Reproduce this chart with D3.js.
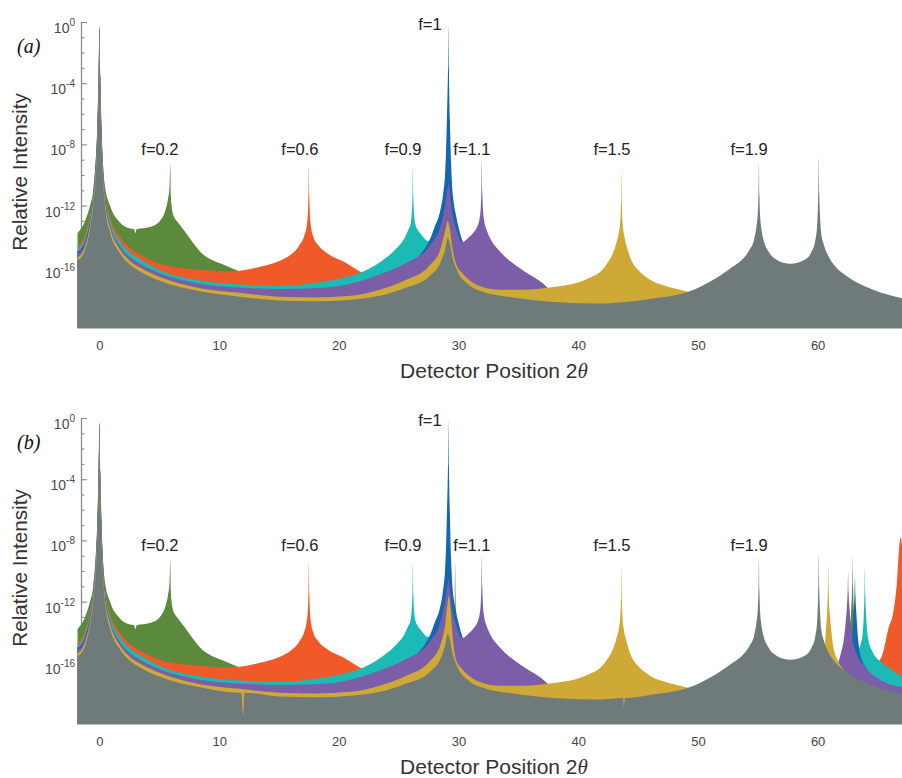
<!DOCTYPE html>
<html><head><meta charset="utf-8">
<script src="https://cdn.jsdelivr.net/npm/d3@7"></script>
<style>body{margin:0;background:#fff}</style>
</head><body><svg id="c" width="902" height="778"></svg>
<script>
// ---------- DATA (x = detector position 2θ, value = log10 relative intensity) ----------
const seriesNames  = ["f=0.2","f=0.6","f=0.9","f=1","f=1.1","f=1.5","f=1.9"];
const seriesColors = ["#5b8a3c","#f05a28","#1bbab5","#1565b0","#7b5ea7","#cfa935","#6f7a7b"];

const greenA = [[-1.85,-13.8],[-1.2,-13.0],[-0.79,-12.0],[-0.5,-10.9],[-0.38,-9.8],[-0.2,-7.2],[-0.08,-3.6],[0,-0.3],[0.08,-3.6],[0.2,-7.4],[0.46,-10.7],[0.88,-12.0],[1.71,-13.1],[2.55,-13.5],[2.9,-13.55],[3.0,-13.8],[3.1,-13.55],[4.2,-13.4],[5.05,-13.0],[5.47,-12.4],[5.72,-11.6],[5.85,-10.8],[5.93,-9.3],[5.97,-11.3],[6.03,-12.0],[6.13,-12.5],[6.35,-12.9],[6.56,-13.1],[7.14,-13.7],[8.4,-15.0],[10.48,-15.9],[11.74,-16.3],[13,-16.6],[16,-17.3],[20,-17.8],[30,-18.6],[67.05,-19]];
const orangeA = [[-1.85,-14.7],[-1.2,-13.9],[-0.8,-12.6],[-0.5,-10.9],[-0.3,-9.0],[-0.15,-6.3],[-0.06,-3.3],[0,-0.35],[0.06,-3.4],[0.15,-6.5],[0.3,-9.4],[0.5,-11.3],[0.9,-12.8],[1.7,-14.0],[2.6,-14.8],[3.4,-15.2],[5,-15.8],[8.4,-16.2],[10.5,-16.3],[11.74,-16.25],[13.41,-16.0],[15.08,-15.6],[16.0,-15.2],[16.7,-14.6],[17.1,-14.0],[17.3,-13.4],[17.4,-12.7],[17.46,-11.4],[17.5,-9.4],[17.54,-11.5],[17.6,-12.8],[17.7,-13.5],[17.9,-14.1],[18.3,-14.6],[19.0,-15.1],[20.5,-15.7],[21.76,-16.3],[23.4,-16.8],[25,-17.2],[30,-18],[40,-18.6],[67.05,-19]];
const tealA = [[-1.85,-14.9],[-1.2,-14.1],[-0.8,-12.8],[-0.5,-11.05],[-0.3,-9.1],[-0.15,-6.4],[-0.06,-3.4],[0,-0.35],[0.06,-3.5],[0.15,-6.6],[0.3,-9.5],[0.5,-11.5],[0.9,-13.0],[1.7,-14.3],[2.6,-15.1],[3.4,-15.5],[5,-16.2],[8.4,-16.9],[11.7,-17.15],[15,-17.25],[18.1,-17.05],[20.5,-16.7],[21.76,-16.4],[23.43,-15.7],[24.68,-14.9],[25.5,-14.1],[25.8,-13.6],[25.99,-13.2],[26.09,-12.5],[26.15,-11.4],[26.19,-9.5],[26.23,-11.5],[26.29,-12.6],[26.39,-13.2],[26.6,-13.6],[26.9,-13.9],[27.44,-14.3],[27.8,-14.3],[28.45,-14.0],[29.16,-12.5],[29.6,-14.8],[30.3,-15.5],[32,-16.5],[35,-17.6],[40,-18.6],[67.05,-19]];
const blueA = [[-1.85,-15.05],[-1.2,-14.3],[-0.8,-13.0],[-0.5,-11.25],[-0.3,-9.35],[-0.15,-6.6],[-0.06,-3.6],[0,-0.3],[0.06,-3.6],[0.15,-6.8],[0.3,-9.7],[0.5,-11.75],[0.9,-13.35],[1.7,-14.7],[5,-16.5],[8.4,-17.2],[15,-17.55],[21,-17.2],[23.4,-16.6],[25.5,-15.9],[26.8,-15.2],[27.61,-14.2],[28.0,-13.4],[28.45,-12.4],[28.7,-11.3],[28.87,-10.0],[28.95,-8.6],[29.04,-6.0],[29.12,-3.0],[29.16,-0.2],[29.2,-3.2],[29.28,-6.4],[29.37,-9.0],[29.45,-10.5],[29.6,-11.8],[29.78,-12.6],[30.0,-13.4],[30.28,-14.2],[30.95,-15.0],[32,-16],[35,-17.5],[40,-18.5],[67.05,-19]];
const purpleA = [[-1.85,-15.2],[-1.2,-14.45],[-0.8,-13.15],[-0.5,-11.4],[-0.3,-9.5],[-0.15,-6.8],[-0.06,-3.8],[0,-0.35],[0.06,-3.8],[0.15,-7.0],[0.3,-9.8],[0.5,-11.8],[0.9,-13.3],[1.7,-14.6],[2.6,-15.4],[3.4,-15.8],[5,-16.4],[8.4,-17.1],[11.7,-17.35],[15,-17.45],[18,-17.4],[21,-17.1],[23.4,-16.5],[25.5,-15.8],[27.6,-14.6],[28.5,-13.3],[28.87,-12.0],[29.1,-10.8],[29.16,-10.5],[29.25,-11.0],[29.45,-12.4],[29.8,-13.5],[30.28,-14.4],[30.95,-14.0],[31.2,-13.8],[31.55,-13.4],[31.75,-12.9],[31.85,-12.2],[31.91,-11.0],[31.95,-9.0],[31.99,-11.1],[32.05,-12.3],[32.15,-13.0],[32.35,-13.6],[32.62,-14.1],[33.46,-15.0],[35.13,-16.1],[37.22,-17.2],[37.63,-17.5],[40,-18.3],[44,-18.6],[67.05,-19]];
const yellowA = [[-1.85,-15.4],[-1.2,-14.65],[-0.8,-13.35],[-0.5,-11.6],[-0.3,-9.7],[-0.15,-7.0],[-0.06,-3.9],[0,-0.35],[0.06,-4.0],[0.15,-7.2],[0.3,-10.0],[0.5,-12.0],[0.9,-13.5],[1.7,-14.85],[2.6,-15.65],[3.4,-16.05],[5,-16.65],[8.4,-17.4],[11.7,-17.7],[15,-17.95],[18,-18.0],[21,-17.9],[23.4,-17.5],[25.5,-16.9],[27.6,-15.9],[28.5,-14.8],[28.9,-13.6],[29.1,-13.0],[29.25,-13.4],[29.5,-14.8],[29.8,-15.8],[30.3,-16.4],[30.95,-16.9],[31.6,-17.2],[33.5,-17.5],[35.5,-17.5],[37.6,-17.35],[40.1,-17.0],[41.0,-16.7],[41.8,-16.35],[42.4,-15.8],[42.9,-15.1],[43.2,-14.4],[43.41,-13.7],[43.51,-13.0],[43.57,-11.8],[43.61,-9.7],[43.65,-11.9],[43.71,-13.1],[43.81,-13.8],[44.0,-14.5],[44.4,-15.5],[45.0,-16.2],[46.0,-16.85],[47.5,-17.3],[48.5,-17.5],[49.5,-17.75],[51,-18.6],[67.05,-19]];
const grayA = [[-1.85,-15.6],[-1.2,-14.9],[-0.8,-13.6],[-0.5,-11.9],[-0.3,-10.0],[-0.15,-7.2],[-0.06,-4.0],[0,-0.4],[0.06,-4.2],[0.15,-7.4],[0.3,-10.3],[0.5,-12.3],[0.9,-13.8],[1.7,-15.1],[2.6,-15.9],[3.4,-16.3],[5.0,-16.9],[8.4,-17.6],[11.7,-17.95],[15,-18.2],[18,-18.25],[21,-18.15],[23.4,-17.9],[25.5,-17.4],[27.6,-16.6],[28.5,-15.7],[28.9,-14.8],[29.1,-14.1],[29.25,-14.4],[29.5,-15.4],[29.8,-16.1],[30.9,-17.2],[31.9,-17.6],[35,-18.05],[38,-18.3],[41.8,-18.4],[44,-18.3],[46,-18.1],[49.3,-17.6],[50.2,-17.3],[51.8,-16.6],[52.9,-16.0],[53.6,-15.6],[54.3,-14.9],[54.7,-14.2],[54.9,-13.3],[55.0,-12.5],[55.06,-11.2],[55.1,-9.1],[55.14,-11.3],[55.2,-12.7],[55.3,-13.5],[55.5,-14.3],[55.9,-15.0],[56.6,-15.55],[57.69,-15.8],[59.0,-15.5],[59.5,-15.0],[59.8,-14.3],[59.96,-13.3],[60.02,-12.2],[60.06,-11.0],[60.1,-8.8],[60.14,-11.2],[60.2,-12.6],[60.3,-13.8],[60.5,-14.5],[60.9,-15.3],[61.5,-16.0],[62.42,-16.6],[64.64,-17.5],[67.05,-18.05]];

// Panel (b): segments that differ from panel (a)
const greenB_changes  = [[[29.55,-18.6],[29.65,-14.5],[29.69,-11.5],[29.72,-9.5],[29.75,-11.5],[29.8,-14.5],[29.9,-18.6]],
                         [[60,-18.8],[62.0,-16.8],[62.5,-15.3],[62.7,-13.6],[62.8,-12.6],[62.88,-11.0],[62.92,-9.1],[62.96,-11.0],[63.04,-12.6],[63.15,-13.6],[63.3,-15.0],[63.6,-16.0],[64.5,-17.2],[67.05,-18.2]]];
const orangeB_changes = [[[60,-18.8],[63.3,-17.6],[64.0,-17.0],[64.93,-16.15],[65.48,-15.3],[65.9,-13.8],[66.32,-12.7],[66.65,-10.5],[66.82,-8.4],[66.95,-7.8],[67.05,-8.3]]];
const tealB_changes   = [[[60,-18.8],[62.3,-17.0],[63.0,-16.0],[63.5,-15.0],[63.75,-14.2],[63.85,-13.0],[63.91,-11.6],[63.95,-9.8],[63.99,-11.6],[64.06,-13.0],[64.2,-14.3],[64.6,-15.3],[65.4,-16.0],[66.1,-16.4],[67.05,-16.9]]];
const blueB_changes   = [[[60,-18.8],[62.5,-16.5],[62.9,-14.0],[63.02,-12.6],[63.08,-11.5],[63.12,-10.4],[63.16,-11.6],[63.24,-12.8],[63.4,-14.6],[63.8,-16.0],[67.05,-18.3]]];
const purpleB_changes = [[[44,-18.6],[60,-18.6],[61.4,-16.6],[61.87,-15.6],[62.2,-14.4],[62.35,-13.3],[62.45,-12.3],[62.51,-11.3],[62.55,-10.1],[62.59,-11.4],[62.67,-12.5],[62.8,-13.8],[63.2,-15.3],[64.0,-16.3],[65,-17.0],[67.05,-17.6]]];
const yellowB_changes = [[[28.9,-13.4],[29.1,-12.0],[29.2,-11.6],[29.3,-12.2],[29.5,-14.2]],
                         [[50,-18.3],[59.5,-18.5],[60.3,-17.0],[60.55,-15.4],[60.7,-13.8],[60.8,-12.6],[60.86,-11.2],[60.89,-9.6],[60.93,-11.3],[61.0,-12.6],[61.12,-13.7],[61.3,-14.9],[61.6,-15.7],[62.2,-16.5],[63,-17.5],[67.05,-18.6]]];
const grayB_changes   = [[[11.85,-17.95],[12.0,-19.4],[12.12,-17.95]],
                         [[43.75,-18.3],[43.82,-18.9],[43.9,-18.3]]];

const xTickValues    = [0,10,20,30,40,50,60];
const yTickExponents = [0,-4,-8,-12,-16];
const peakLabelX     = [5.05,16.75,25.36,27.61,31.12,42.82,54.27];
const peakLabelExp   = [-8.7,-8.7,-8.7,-0.5,-8.7,-8.7,-8.7];

// ---------- BUILD ----------
function applyChanges(base, segs){
  let pts = base.slice();
  segs.forEach(seg=>{
    const a = seg[0][0], b = seg[seg.length-1][0];
    pts = pts.filter(p=>p[0]<a || p[0]>b).concat(seg);
  });
  return pts.sort((p,q)=>p[0]-q[0]);
}
const seriesA = [greenA, orangeA, tealA, blueA, purpleA, yellowA, grayA];
const changesB = [greenB_changes, orangeB_changes, tealB_changes, blueB_changes, purpleB_changes, yellowB_changes, grayB_changes];
const seriesB = seriesA.map((s,i)=>applyChanges(s, changesB[i]));

const svg = d3.select("#c");
svg.append("rect").attr("width",902).attr("height",778).attr("fill","#fff");
const FONT = "'Liberation Sans', Arial, Helvetica, sans-serif";
const SERIF = "'Liberation Serif', 'DejaVu Serif', serif";

const panels = [
  {top:22, bottom:328, tag:"(a)", data:seriesA, id:"a"},
  {top:418, bottom:724, tag:"(b)", data:seriesB, id:"b"}
];

panels.forEach(P=>{
  const x = d3.scaleLinear().domain([-1.85, 67.05]).range([77.3, 902]);
  const y = d3.scaleLog().domain([1e-20, 1]).range([P.bottom, P.top]);
  const g = svg.append("g");

  // y axis (drawn beneath the fills)
  const allDecades = d3.range(0, -21, -1).map(e=>Math.pow(10,e));
  const yAxis = d3.axisLeft(y).tickValues(allDecades).tickFormat(()=> "").tickSizeInner(-5).tickSizeOuter(0);
  const ya = g.append("g").attr("transform","translate(81,0)").call(yAxis);
  ya.select(".domain").attr("stroke","#8a8a8a").attr("stroke-width",1.3);
  ya.selectAll(".tick line")
    .attr("stroke","#8a8a8a").attr("stroke-width",1.1)
    .attr("x2", d=> (Math.round(Math.log10(d))%4===0) ? 6 : 3.5);

  yTickExponents.forEach(e=>{
    const t = g.append("text").attr("x",75).attr("y", y(Math.pow(10,e))+11)
      .attr("text-anchor","end").attr("fill","#4a4a4a").style("font-family",FONT);
    t.append("tspan").attr("font-size",14).text("10");
    t.append("tspan").attr("font-size",10).attr("dy",-7).text(String(e));
  });

  const clipId = "clip"+P.id;
  svg.append("clipPath").attr("id",clipId).append("rect")
    .attr("x",77.3).attr("y",P.top-10).attr("width",902-77.3).attr("height",P.bottom-P.top+10);

  const area = d3.area()
    .curve(d3.curveMonotoneX)
    .x(d=>x(d[0]))
    .y0(P.bottom)
    .y1(d=>y(Math.pow(10,d[1])));

  const fg = g.append("g").attr("clip-path",`url(#${clipId})`);
  P.data.forEach((s,i)=>{
    fg.append("path").datum(s).attr("d",area).attr("fill",seriesColors[i]);
  });
  g.append("line").attr("x1",77.3).attr("x2",902).attr("y1",P.bottom+0.5).attr("y2",P.bottom+0.5)
    .attr("stroke","#b9c0c0").attr("stroke-width",1);

  const xAxis = d3.axisBottom(x).tickValues(xTickValues).tickSize(0).tickPadding(13).tickFormat(d3.format("d"));
  const xa = g.append("g").attr("transform",`translate(0,${P.bottom})`).call(xAxis);
  xa.select(".domain").remove();
  xa.selectAll("text").attr("font-size",13).attr("fill","#444").style("font-family",FONT);

  const xt = g.append("text").attr("x",494).attr("y",P.bottom+50).attr("text-anchor","middle")
    .attr("font-size",21).attr("fill","#333").style("font-family",FONT);
  xt.append("tspan").text("Detector Position 2");
  xt.append("tspan").attr("font-style","italic").style("font-family",SERIF).text("θ");

  g.append("text").attr("transform",`translate(27,${(P.top+P.bottom)/2-3}) rotate(-90)`)
    .attr("text-anchor","middle").attr("font-size",20.7).attr("fill","#333").style("font-family",FONT)
    .text("Relative Intensity");

  g.append("text").attr("x",17).attr("y",P.top+31).attr("font-size",20).attr("font-style","italic")
    .attr("fill","#111").style("font-family",SERIF).text(P.tag);

  seriesNames.forEach((n,i)=>{
    g.append("text").attr("x",x(peakLabelX[i])).attr("y",y(Math.pow(10,peakLabelExp[i])))
      .attr("text-anchor","middle").attr("font-size",16.5).attr("fill","#222").style("font-family",FONT)
      .text(n);
  });
});
</script></body></html>
